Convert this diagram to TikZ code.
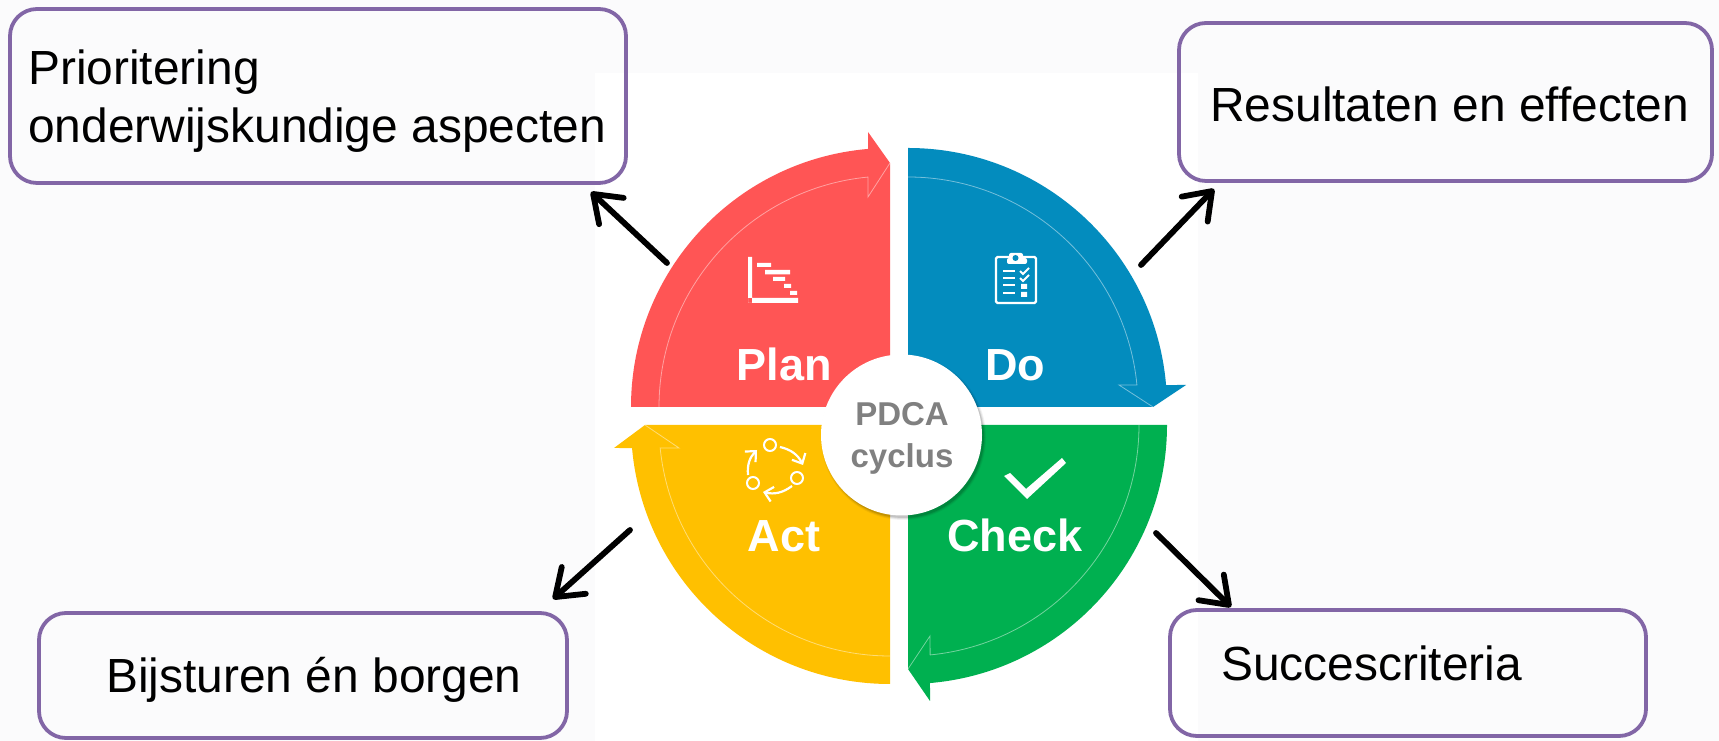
\documentclass[tikz,border=0pt]{standalone}
\usepackage{fontspec}
\setmainfont{Liberation Sans}
\usetikzlibrary{arrows.meta}
\definecolor{pageb}{HTML}{FBFBFC}
\definecolor{planc}{HTML}{FF5555}
\definecolor{doc}{HTML}{038CBE}
\definecolor{actc}{HTML}{FFC000}
\definecolor{checkc}{HTML}{00B050}
\definecolor{boxc}{HTML}{8266A6}
\definecolor{hubt}{HTML}{808080}
\tikzset{
  x=1pt,y=1pt,
  sector/.style={fill=#1,draw=none},
  rim/.style={draw=white,draw opacity=.45,line width=.8pt,line join=miter},
  box/.style={draw=boxc,line width=3.8pt,rounded corners=27pt,inner sep=0pt,fill=none},
  boxtext/.style={font=\fontsize{47.9}{58}\selectfont,text=black,inner sep=0pt,anchor=base west},
  quarter/.style={font=\fontsize{45}{50}\selectfont\bfseries,text=white,inner sep=0pt,anchor=base},
  hublabel/.style={font=\fontsize{33}{42}\selectfont\bfseries,text=hubt,align=center,inner sep=0pt},
  link/.style={draw=black,line width=5.8pt,line cap=round,-{Straight Barb[length=25pt,width=36pt,round,line width=5.8pt]}},
  icon/.style={draw=white,line width=2.4pt},
  iconfill/.style={fill=white,draw=none},
  cyclearrow/.style={icon,line width=2.2pt,-{Straight Barb[length=8pt,width=15pt,line width=2.2pt]}}
}
\begin{document}
\begin{tikzpicture}
\useasboundingbox (0,0) rectangle (1719,741);
\fill[pageb] (0,0) rectangle (1719,741);
\fill[white] (595,0) rectangle (1198,668);

% quarters
\fill[sector=planc] (631,334) arc[start angle=180,end angle=94.87,radius=259] -- (868,609) -- (890,578) -- (890,334) -- cycle;
\draw[rim] (659,334) arc[start angle=180,end angle=95.46,radius=231] -- (868,544) -- (890,578);

\fill[sector=doc] (908,593) arc[start angle=90,end angle=4.87,radius=259] -- (1186,356) -- (1153,334) -- (908,334) -- cycle;
\draw[rim] (908,564) arc[start angle=90,end angle=5.49,radius=230] -- (1119,356) -- (1153,334);

\fill[sector=checkc] (1167,316) arc[start angle=0,end angle=-85.13,radius=259] -- (930,40) -- (908,72) -- (908,316) -- cycle;
\draw[rim] (1139,316) arc[start angle=0,end angle=-84.5,radius=231] -- (930,105) -- (908,72);

\fill[sector=actc] (890,57) arc[start angle=270,end angle=185.1,radius=259] -- (614,293) -- (645,316) -- (890,316) -- cycle;
\draw[rim] (890,85) arc[start angle=270,end angle=185.7,radius=231] -- (679,293) -- (645,316);

% hub
\foreach \r/\o in {82.5/.05,81.5/.08,80.5/.12}{\fill[black,opacity=\o] (903.5,303.5) circle[radius=\r];}
\node[circle,fill=white,minimum size=161pt,inner sep=0pt] (hub) at (901.5,306) {};
\node[hublabel] (hubtext) at (902,303) {PDCA\\cyclus};

% quarter labels
\node[quarter] (plan) at (784,360) {Plan};
\node[quarter] (do) at (1015,360) {Do};
\node[quarter] (act) at (784,189) {Act};
\node[quarter] (check) at (1015,189) {Check};

% gantt icon
\fill[iconfill] (748,484) rectangle (752,438) (748,438) rectangle (798,443);
\fill[iconfill] (757,474) rectangle (771,478) (765,466.5) rectangle (790,471) (773,460) rectangle (785,464) (784,453) rectangle (791,457) (790,446) rectangle (797,450);

% clipboard icon
\draw[icon,rounded corners=1.5pt] (996,484) rectangle (1036,438);
\fill[iconfill,rounded corners=2pt] (1007,477) rectangle (1027,483) (1009,483) rectangle (1023,488);
\fill[doc] (1015.5,483) circle[radius=3];
\foreach \yy in {470,463,456,448}{\draw[icon,line width=2pt] (1003,\yy) -- (1015,\yy);}
\draw[icon,line width=2pt] (1020,470) -- (1023,467) -- (1029,473);
\draw[icon,line width=2pt] (1020,463) -- (1023,460) -- (1029,466);
\fill[iconfill] (1021,452) rectangle (1027,457) (1021,444) rectangle (1027,449);

% cycle icon
\draw[icon,line width=2pt] (770,296) circle[radius=6];
\draw[icon,line width=2pt] (797,263) circle[radius=6];
\draw[icon,line width=2pt] (753,258) circle[radius=6];
\draw[cyclearrow] (780,294) to[bend left=25] (803,276);
\draw[cyclearrow] (792,255) to[bend left=25] (763,249);
\draw[cyclearrow] (748,266) to[bend left=25] (757,291);

% check icon
\fill[iconfill] (1004,265) -- (1027,242) -- (1066,278) -- (1062,283) -- (1026,252) -- (1010,268) -- cycle;

% boxes
\node[box,minimum width=616pt,minimum height=174pt] (prio) at (318,645) {};
\node[box,minimum width=533pt,minimum height=158pt] (res) at (1445.5,639) {};
\node[box,minimum width=476pt,minimum height=126pt] (succ) at (1408,68) {};
\node[box,minimum width=528pt,minimum height=125pt] (bij) at (303,65.5) {};

\node[boxtext,align=left] (priot) at (28,598) {Prioritering\\onderwijskundige aspecten};
\node[boxtext] (rest) at (1210,619) {Resultaten en effecten};
\node[boxtext] (succt) at (1221,60) {Succescriteria};
\node[boxtext] (bijt) at (106,48) {Bijsturen én borgen};

% connectors
\coordinate (planout) at (667,478);
\coordinate (doout) at (1141,476);
\coordinate (checkout) at (1156,208);
\coordinate (actout) at (630,211);
\coordinate (priotip) at (591,549);
\coordinate (restip) at (1214,552);
\coordinate (succtip) at (1231,134);
\coordinate (bijtip) at (553,142);
\draw[link] (planout) -- (priotip);
\draw[link] (doout) -- (restip);
\draw[link] (checkout) -- (succtip);
\draw[link] (actout) -- (bijtip);
\end{tikzpicture}
\end{document}
